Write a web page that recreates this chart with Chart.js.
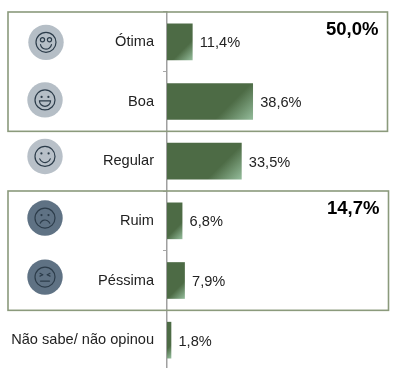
<!DOCTYPE html>
<html><head><meta charset="utf-8">
<style>html,body{margin:0;padding:0;background:#fff;overflow:hidden;height:368px}canvas{display:block}</style>
<script src="https://cdn.jsdelivr.net/npm/chart.js@4"></script></head>
<body><canvas id="c" width="397" height="370"></canvas>
<script>
const categories = ["Ótima","Boa","Regular","Ruim","Péssima","Não sabe/ não opinou"];
const values = [11.4,38.6,33.5,6.8,7.9,1.8];
const valueLabels = ["11,4%","38,6%","33,5%","6,8%","7,9%","1,8%"];
const iconKinds = ["great","good","ok","bad","awful",null];
const iconFills = ["#b5bec6","#b5bec6","#b8c0c8","#5f7284","#5f7284",null];
const iconXs = [46,45,45,45,45,0];
const iconDy = [0.5,-1.6,-4.7,-2.8,-3.4,0];
const groups = [{from:0,to:1,label:"50,0%",right:387.5,left:8},{from:3,to:4,label:"14,7%",right:388.5,left:8}];

function fillFor(ctx){
  const chart=ctx.chart, a=chart.chartArea;
  if(!a||ctx.dataIndex===undefined) return "#4d6b45";
  const x=chart.scales.x, y=chart.scales.y;
  const right=x.getPixelForValue(values[ctx.dataIndex]), left=x.getPixelForValue(0);
  const bottom=y.getPixelForValue(ctx.dataIndex)+18;
  const d=(right-left)*0.15+6;
  const g=chart.ctx.createLinearGradient(right-d,bottom-d,right,bottom);
  g.addColorStop(0,"#4d6b45");
  g.addColorStop(1,"#93bb9a");
  return g;
}
function face(c,kind,x,y){
  const s="#2c3c4a";
  c.save();c.translate(x,y);c.strokeStyle=s;c.fillStyle=s;c.lineWidth=1.2;c.lineCap="round";
  c.beginPath();c.arc(0,0,10,0,Math.PI*2);c.stroke();
  const line=(a,b,e,f)=>{c.beginPath();c.moveTo(a,b);c.lineTo(e,f);c.stroke();};
  if(kind==="great"){
    c.beginPath();c.arc(-3.5,-2.6,2.1,0,7);c.stroke();
    c.beginPath();c.arc(3.5,-2.6,2.1,0,7);c.stroke();
    c.beginPath();c.arc(0,1.2,5.6,0.2,Math.PI-0.2);c.stroke();
  }else if(kind==="good"){
    c.beginPath();c.arc(-3.4,-3,1.1,0,7);c.fill();
    c.beginPath();c.arc(3.4,-3,1.1,0,7);c.fill();
    c.beginPath();c.moveTo(-5.5,1);c.lineTo(5.5,1);c.arc(0,1,5.5,0,Math.PI);c.closePath();c.stroke();
  }else if(kind==="ok"){
    c.beginPath();c.arc(-3.6,-3,1.1,0,7);c.fill();
    c.beginPath();c.arc(3.6,-3,1.1,0,7);c.fill();
    c.beginPath();c.arc(0,0.5,5.6,0.35,Math.PI-0.35);c.stroke();
  }else if(kind==="bad"){
    c.beginPath();c.arc(-3.5,-3,1.1,0,7);c.fill();
    c.beginPath();c.arc(3.5,-3,1.1,0,7);c.fill();
    c.beginPath();c.arc(0,7.2,5.2,Math.PI+0.4,-0.4);c.stroke();
  }else if(kind==="awful"){
    line(-5,-3.8,-2.3,-2.4);line(-5,-1,-2.3,-2.4);
    line(5,-3.8,2.3,-2.4);line(5,-1,2.3,-2.4);
    line(-4.5,4,4.5,4);
  }
  c.restore();
}
const overlay={
  id:"overlay",
  afterDatasetsDraw(chart){
    const c=chart.ctx,x=chart.scales.x,y=chart.scales.y;
    c.save();
    const band=y.getPixelForValue(1)-y.getPixelForValue(0);
    groups.forEach(g=>{
      const t=y.getPixelForValue(g.from)-band/2,b=y.getPixelForValue(g.to)+band/2;
      c.strokeStyle="#8b9a7c";c.lineWidth=1.6;
      c.strokeRect(g.left,t,g.right-g.left,b-t);
      c.fillStyle="#000";c.font="bold 18.5px 'Liberation Sans'";c.textAlign="right";c.textBaseline="middle";
      c.fillText(g.label,g.right-9,t+17.5);
    });
    c.font="14.6px 'Liberation Sans'";c.fillStyle="#222";c.textAlign="left";c.textBaseline="middle";
    values.forEach((v,i)=>c.fillText(valueLabels[i],x.getPixelForValue(v)+7.5,y.getPixelForValue(i)+1.5));
    iconKinds.forEach((k,i)=>{
      if(!k) return;
      const cx=iconXs[i],cy=y.getPixelForValue(i)+iconDy[i];
      c.fillStyle=iconFills[i];c.beginPath();c.arc(cx,cy,17.7,0,Math.PI*2);c.fill();
      face(c,k,cx,cy);
    });
    c.restore();
  }
};
new Chart(document.getElementById("c"),{
  type:"bar",
  data:{labels:categories,datasets:[{data:values,backgroundColor:fillFor,barThickness:36,borderWidth:0}]},
  plugins:[overlay],
  options:{
    indexAxis:"y",responsive:false,animation:false,devicePixelRatio:1,
    layout:{padding:{top:12,bottom:0,right:8,left:0}},
    plugins:{legend:{display:false},tooltip:{enabled:false},title:{display:false}},
    scales:{
      x:{display:false,min:0,max:100},
      y:{
        afterFit(s){s.width=167;s.paddingTop=0;s.paddingBottom=0;},
        grid:{display:true,drawOnChartArea:false,drawTicks:true,tickLength:4,color:"#a8a8a8",offset:true},
        border:{display:true,color:"#a0a0a0",width:1.5},
        ticks:{color:"#222",font:{family:"'Liberation Sans'",size:14.6},padding:9,autoSkip:false}
      }
    }
  }
});
</script></body></html>
